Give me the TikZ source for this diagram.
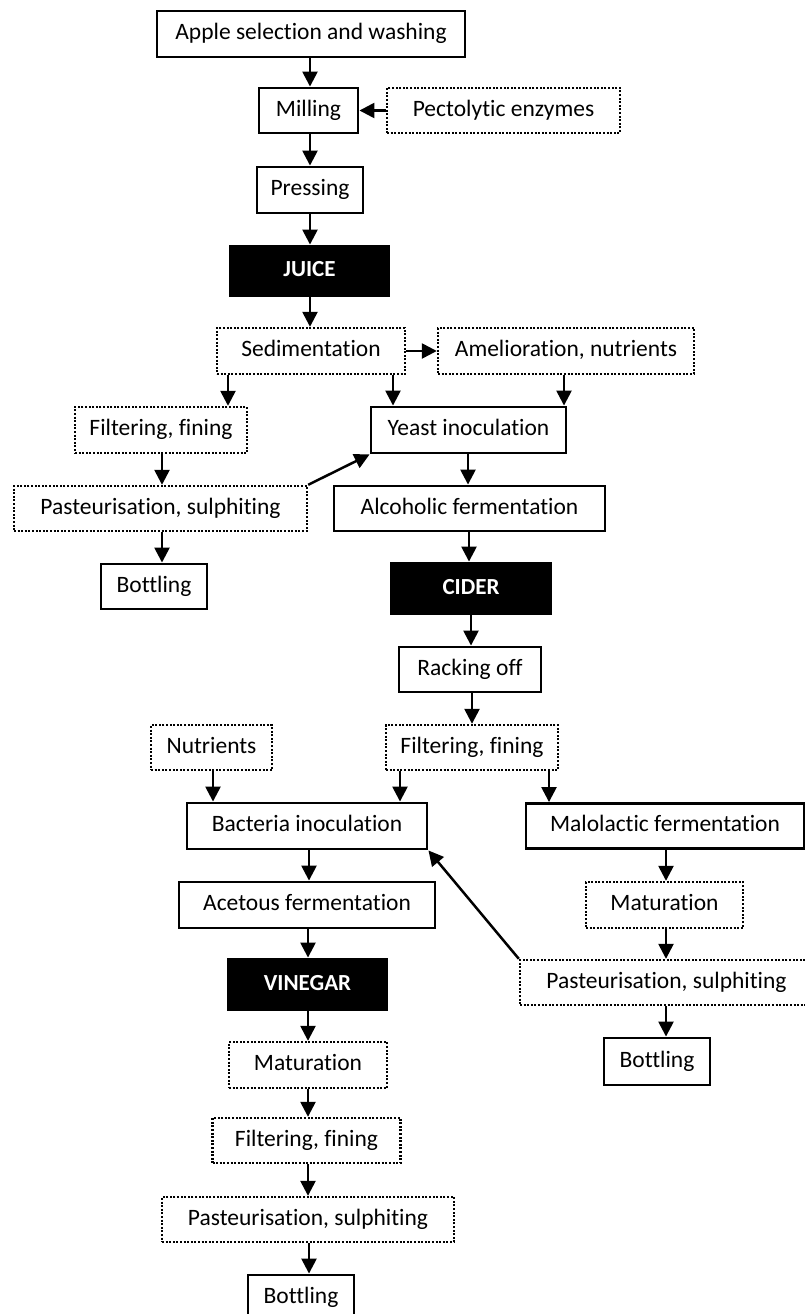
\documentclass[tikz,border=0pt]{standalone}
\usepackage{fontspec}
\setmainfont{Carlito}[Ligatures=CommonOff]
\usetikzlibrary{arrows.meta}

\tikzset{
  box/.style={draw, line width=2.9pt, inner sep=0pt, minimum height=46pt,
    text height=16.5pt, text depth=5.5pt, font=\fontsize{23.5}{28}\selectfont},
  optbox/.style={box, line width=2.4pt, dash pattern=on 2pt off 1.6pt},
  prodbox/.style={box, fill=black, text=white, minimum height=50pt,
    font=\fontsize{23}{28}\selectfont\bfseries},
  arr/.style={line width=2.5pt, -{Triangle[length=15pt,width=15pt]}}
}

\begin{document}
\begin{tikzpicture}[x=1pt, y=-1pt]
\useasboundingbox (0,0) rectangle (805,1314);

% juice line
\node (Apple) at (311,34) [box, minimum width=308pt] {Apple selection and washing};
\node (Mill) at (308.5,110.5) [box, minimum width=99pt, minimum height=45pt] {Milling};
\node (Pect) at (503.5,110.5) [optbox, minimum width=233pt, minimum height=45pt] {Pectolytic enzymes};
\node (Press) at (310,190) [box, minimum width=106pt] {Pressing};
\node (Juice) at (309.5,271) [prodbox, minimum width=159pt] {JUICE};
\node (Sed) at (311,351) [optbox, minimum width=188pt] {Sedimentation};
\node (Amel) at (566,351) [optbox, minimum width=256pt] {Amelioration, nutrients};
\node (Filt1) at (161,430) [optbox, minimum width=172pt] {Filtering, fining};
\node (Yeast) at (468.5,430) [box, minimum width=195pt] {Yeast inoculation};
\node (Past1) at (160.5,508.5) [optbox, minimum width=293pt, minimum height=45pt] {Pasteurisation, sulphiting};
\node (Alc) at (469.5,508.5) [box, minimum width=271pt, minimum height=45pt] {Alcoholic fermentation};
\node (Bot1) at (154,586.5) [box, minimum width=106pt, minimum height=45pt] {Bottling};

% cider line
\node (Cider) at (471,588.5) [prodbox, minimum width=160pt, minimum height=51pt] {CIDER};
\node (Rack) at (470,669.5) [box, minimum width=142pt, minimum height=45pt] {Racking off};
\node (Nutr) at (211.5,747.5) [optbox, minimum width=121pt, minimum height=45pt] {Nutrients};
\node (Filt2) at (472,747.5) [optbox, minimum width=172pt, minimum height=45pt] {Filtering, fining};
\node (Bact) at (307,826) [box, minimum width=240pt] {Bacteria inoculation};
\node (Malo) at (665,826) [box, minimum width=278pt, minimum height=45pt] {Malolactic fermentation};
\node (Acet) at (307,905) [box, minimum width=256pt] {Acetous fermentation};
\node (Mat1) at (664.5,905) [optbox, minimum width=157pt] {Maturation};
\node (Past2) at (666.5,982.5) [optbox, minimum width=293pt, minimum height=45pt] {Pasteurisation, sulphiting};
\node (Bot2) at (657,1061.5) [box, minimum width=106pt, minimum height=47pt] {Bottling};

% vinegar line
\node (Vin) at (307.5,984.5) [prodbox, minimum width=159pt, minimum height=51pt] {VINEGAR};
\node (Mat2) at (308,1065) [optbox, minimum width=158pt] {Maturation};
\node (Filt3) at (306.5,1140.5) [optbox, minimum width=188pt, minimum height=45pt] {Filtering, fining};
\node (Past3) at (308,1219.5) [optbox, minimum width=292pt, minimum height=45pt] {Pasteurisation, sulphiting};
\node (Bot3) at (301,1298) [box, minimum width=106pt] {Bottling};

\draw [arr] (310,0 |- Apple.south) -- (310,0 |- Mill.north);
\draw [arr] (Pect.west) -- (Mill.east);
\draw [arr] (310,0 |- Mill.south) -- (310,0 |- Press.north);
\draw [arr] (310,0 |- Press.south) -- (310,0 |- Juice.north);
\draw [arr] (310,0 |- Juice.south) -- (310,0 |- Sed.north);
\draw [arr] (Sed.east) -- (Amel.west);
\draw [arr] (228,0 |- Sed.south) -- (228,0 |- Filt1.north);
\draw [arr] (393,0 |- Sed.south) -- (393,0 |- Yeast.north);
\draw [arr] (564,0 |- Amel.south) -- (564,0 |- Yeast.north);
\draw [arr] (162,0 |- Filt1.south) -- (162,0 |- Past1.north);
\draw [arr] (Past1.north east) -- (Yeast.south west);
\draw [arr] (468,0 |- Yeast.south) -- (468,0 |- Alc.north);
\draw [arr] (162,0 |- Past1.south) -- (162,0 |- Bot1.north);
\draw [arr] (469,0 |- Alc.south) -- (469,0 |- Cider.north);
\draw [arr] (471,0 |- Cider.south) -- (471,0 |- Rack.north);
\draw [arr] (472,0 |- Rack.south) -- (472,0 |- Filt2.north);
\draw [arr] (213,0 |- Nutr.south) -- (213,0 |- Bact.north);
\draw [arr] (400,0 |- Filt2.south) -- (400,0 |- Bact.north);
\draw [arr] (549,0 |- Filt2.south) -- (549,0 |- Malo.north);
\draw [arr] (309,0 |- Bact.south) -- (309,0 |- Acet.north);
\draw [arr] (666,0 |- Malo.south) -- (666,0 |- Mat1.north);
\draw [arr] (666,0 |- Mat1.south) -- (666,0 |- Past2.north);
\draw [arr] (Past2.north west) -- (Bact.south east);
\draw [arr] (666,0 |- Past2.south) -- (666,0 |- Bot2.north);
\draw [arr] (308,0 |- Acet.south) -- (308,0 |- Vin.north);
\draw [arr] (308,0 |- Vin.south) -- (308,0 |- Mat2.north);
\draw [arr] (308,0 |- Mat2.south) -- (308,0 |- Filt3.north);
\draw [arr] (308,0 |- Filt3.south) -- (308,0 |- Past3.north);
\draw [arr] (309,0 |- Past3.south) -- (309,0 |- Bot3.north);
\end{tikzpicture}
\end{document}
